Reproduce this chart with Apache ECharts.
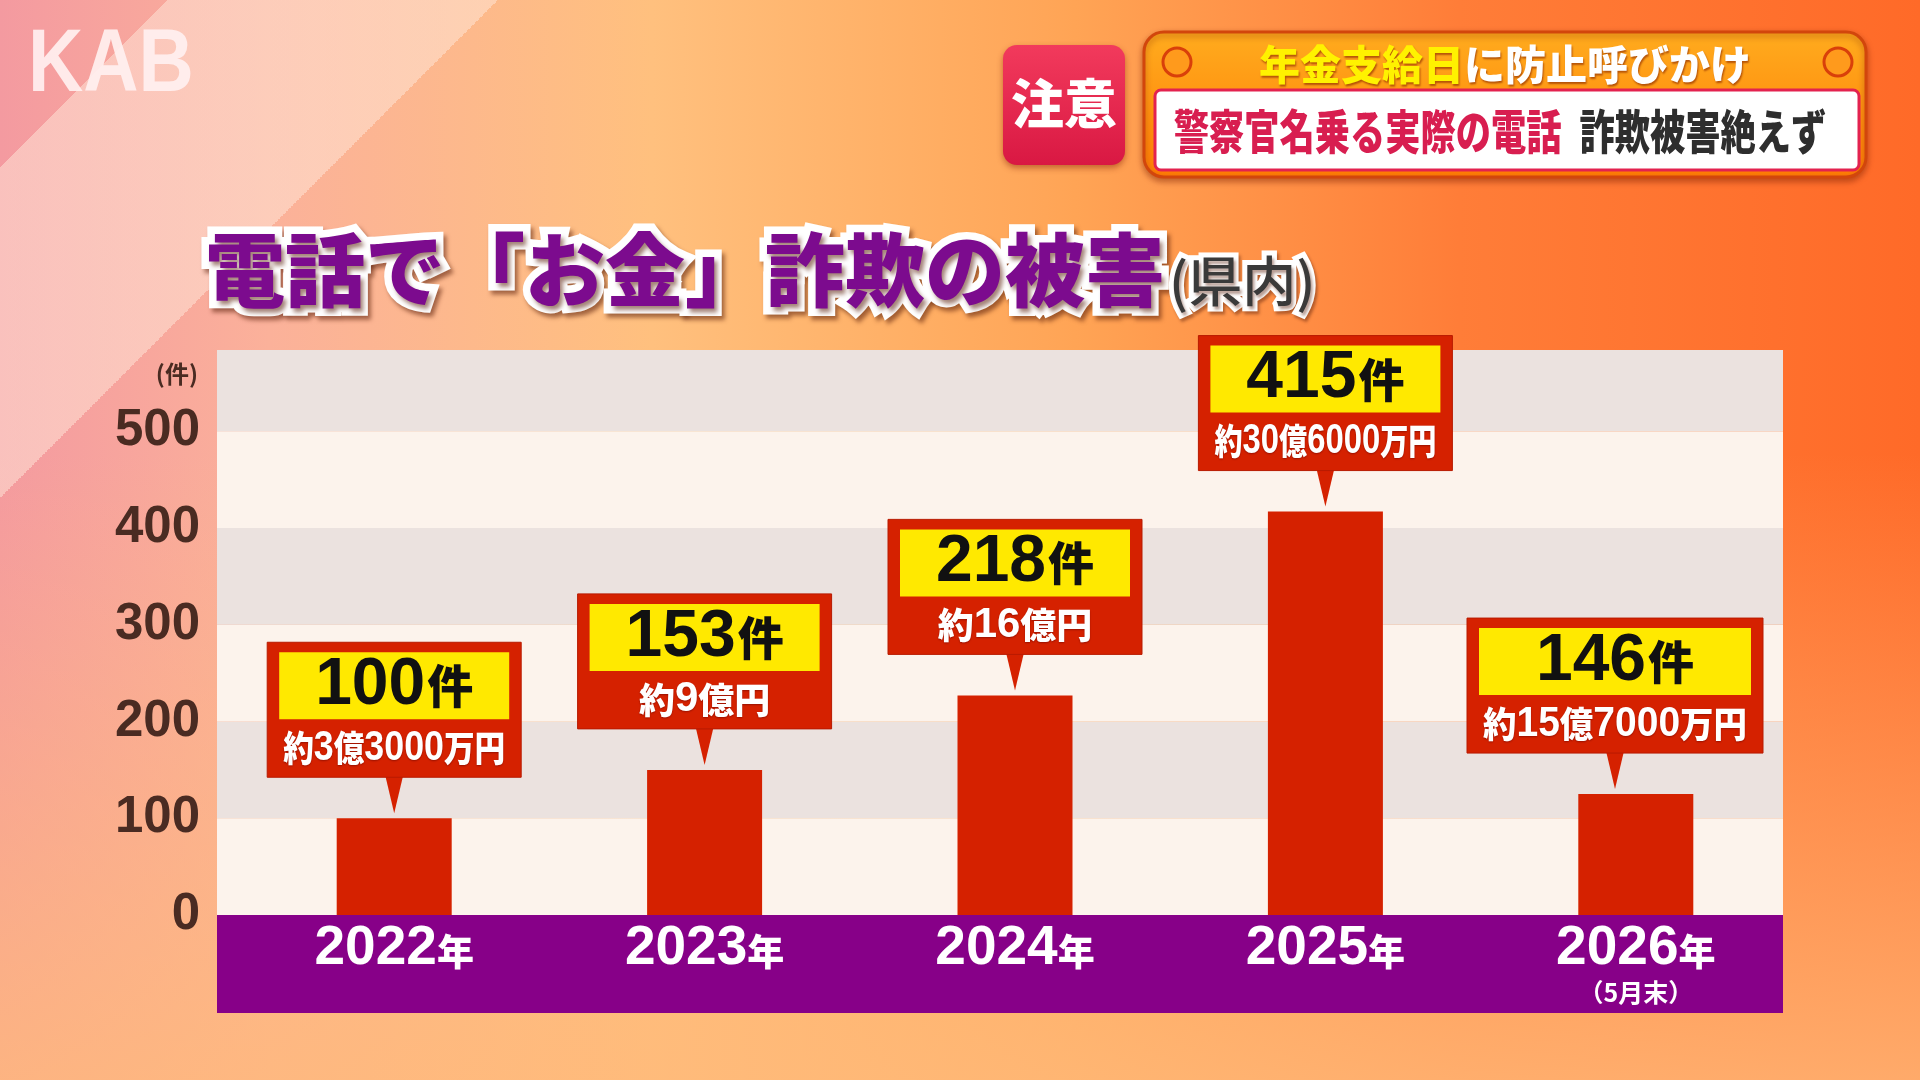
<!DOCTYPE html>
<html lang="ja">
<head>
<meta charset="utf-8">
<title>電話で「お金」詐欺の被害</title>
<script src="https://cdn.jsdelivr.net/npm/echarts@6/dist/echarts.min.js"></script>
<style>
  html, body { margin: 0; padding: 0; }
  body {
    width: 1920px;
    height: 1080px;
    overflow: hidden;
    background:
      linear-gradient(135deg, rgba(255,255,255,0) 0 5.6%, rgba(255,232,218,0.5) 5.6% 16.6%, rgba(255,255,255,0) 16.6%),
      linear-gradient(180deg, rgba(255,188,120,0) 42%, rgba(255,186,122,0.8) 100%),
      linear-gradient(90deg, #f49aa0 0%, #fbb19a 14%, #ffc07e 34%, #ffa455 56%, #ff7d38 76%, #ff6a28 100%);
  }
  #chart { width: 1920px; height: 1080px; }
</style>
</head>
<body>
<div id="chart"></div>
<script>
const years = ['2022', '2023', '2024', '2025', '2026'];
const yearNotes = ['', '', '', '', '（5月末）'];
// bar heights as drawn in the graphic (2024 and 2026 bars don't quite match their labels)
const barValues = [100, 150, 227, 417, 125];
const caseCounts = ['100', '153', '218', '415', '146'];
const damageAmounts = ['約3億3000万円', '約9億円', '約16億円', '約30億6000万円', '約15億7000万円'];
const yTicks = [0, 100, 200, 300, 400, 500];

const NUM_FONT = '"Liberation Sans", "Noto Sans CJK JP", sans-serif';
const JP_FONT = '"Noto Sans CJK JP", sans-serif';
const RED = '#d52100';
const YELLOW = '#ffe900';
const PURPLE = '#870088';
const BROWN = '#4a2b22';

const PLOT = { left: 217, right: 1783, top: 350, bottom: 915 };
const BAR_AREA = { left: 239, right: 1791 };
const Y_MAX = 584;
const CALLOUT_W = [254, 254, 254, 254, 296];

const measureCtx = document.createElement('canvas').getContext('2d');
function amountParts(s) {
  return s.match(/\d+|\D+/g);
}
function measureAmount(s) {
  return amountParts(s).reduce((sum, part) => {
    measureCtx.font = /\d/.test(part) ? `bold 42px ${NUM_FONT}` : `900 36px ${JP_FONT}`;
    return sum + measureCtx.measureText(part).width;
  }, 0);
}
function amountRich(s) {
  return amountParts(s).map(p => (/\d/.test(p) ? `{n|${p}}` : `{k|${p}}`)).join('');
}

function renderCallout(params, api) {
  const i = params.dataIndex;
  const pt = api.coord([api.value(0), api.value(1)]);
  const cx = pt[0], ty = pt[1];
  const w = CALLOUT_W[i], h = 135;
  const bx = Math.min(cx - w / 2, PLOT.right - 20 - w);
  const bBottom = ty - 41, bTop = bBottom - h;
  const px = bx + w / 2;
  const inset = 12;
  const yTop = bTop + 10, yH = 67;
  const amtY = (yTop + yH + bBottom) / 2;
  const sx = Math.min(1, (w - 32) / measureAmount(damageAmounts[i]));
  return {
    type: 'group',
    children: [
      {
        type: 'polygon',
        shape: { points: [[px - 9, bBottom - 2], [px + 9, bBottom - 2], [px, ty - 5]] },
        style: { fill: RED }
      },
      {
        type: 'rect',
        shape: { x: bx, y: bTop, width: w, height: h },
        style: { fill: RED, stroke: '#b81a00', lineWidth: 1 }
      },
      {
        type: 'rect',
        shape: { x: bx + inset, y: yTop, width: w - inset * 2, height: yH },
        style: { fill: YELLOW }
      },
      {
        type: 'text',
        x: px,
        y: yTop + yH / 2,
        style: {
          text: `{n|${caseCounts[i]}}{k|件}`,
          align: 'center', textAlign: 'center',
          verticalAlign: 'middle', textVerticalAlign: 'middle',
          rich: {
            n: { fontSize: 66, fontWeight: 'bold', fontFamily: NUM_FONT, fill: '#111', lineHeight: 70 },
            k: { fontSize: 46, fontWeight: 900, fontFamily: JP_FONT, fill: '#111', lineHeight: 56, padding: [0, 0, 0, 2] }
          }
        }
      },
      {
        type: 'text',
        x: px,
        y: amtY,
        scaleX: sx,
        style: {
          text: amountRich(damageAmounts[i]),
          align: 'center', textAlign: 'center',
          verticalAlign: 'middle', textVerticalAlign: 'middle',
          rich: {
            n: { fontSize: 42, fontWeight: 'bold', fontFamily: NUM_FONT, fill: '#fff', lineHeight: 46,
                 textShadowColor: 'rgba(90,0,0,0.5)', textShadowBlur: 2, textShadowOffsetY: 1 },
            k: { fontSize: 36, fontWeight: 900, fontFamily: JP_FONT, fill: '#fff', lineHeight: 42,
                 textShadowColor: 'rgba(90,0,0,0.5)', textShadowBlur: 2, textShadowOffsetY: 1 }
          }
        }
      }
    ]
  };
}

const chart = echarts.init(document.getElementById('chart'));
chart.setOption({
  backgroundColor: 'transparent',
  animation: false,
  grid: [
    { left: PLOT.left, right: 1920 - PLOT.right, top: PLOT.top, bottom: 1080 - PLOT.bottom },
    { left: BAR_AREA.left, right: 1920 - BAR_AREA.right, top: PLOT.top, bottom: 1080 - PLOT.bottom }
  ],
  xAxis: [
    { gridIndex: 0, type: 'value', show: false },
    {
      gridIndex: 1,
      type: 'category',
      data: years,
      z: 5,
      axisLine: { show: false },
      axisTick: { show: false },
      axisLabel: {
        interval: 0,
        margin: 6,
        formatter: (v, i) => `{y|${v}}{n|年}` + (yearNotes[i] ? `\n{s|${yearNotes[i]}}` : ''),
        rich: {
          y: { fontSize: 55, fontWeight: 'bold', fontFamily: NUM_FONT, color: '#fff', lineHeight: 56 },
          n: { fontSize: 37, fontWeight: 900, fontFamily: JP_FONT, color: '#fff', lineHeight: 44, padding: [5, 0, 0, 0] },
          s: { fontSize: 25, fontWeight: 'bold', fontFamily: JP_FONT, color: '#fff', lineHeight: 30 }
        }
      }
    }
  ],
  yAxis: [
    {
      gridIndex: 0,
      type: 'value',
      min: 0,
      max: Y_MAX,
      interval: 100,
      name: '(件)',
      nameLocation: 'end',
      nameGap: -24,
      nameTextStyle: {
        color: BROWN, fontSize: 24, fontWeight: 'bold', fontFamily: JP_FONT,
        align: 'right', verticalAlign: 'middle', padding: [0, 19, 0, 0]
      },
      axisLine: { show: false },
      axisTick: { show: false },
      splitLine: { show: false },
      splitArea: { show: true, areaStyle: { color: ['#fcf3ec', '#ebe2df'] } },
      axisLabel: {
        margin: 17,
        color: BROWN,
        fontSize: 51,
        fontWeight: 'bold',
        fontFamily: NUM_FONT,
        formatter: v => (yTicks.includes(v) ? String(v) : '')
      }
    },
    { gridIndex: 1, type: 'value', min: 0, max: Y_MAX, show: false, splitLine: { show: false } }
  ],
  series: [
    {
      type: 'bar',
      xAxisIndex: 1,
      yAxisIndex: 1,
      data: barValues,
      barWidth: 115,
      itemStyle: { color: RED },
      z: 2
    },
    {
      type: 'custom',
      xAxisIndex: 1,
      yAxisIndex: 1,
      data: barValues.map((v, i) => [i, v]),
      renderItem: renderCallout,
      clip: false,
      z: 4
    }
  ],
  graphic: [
    // purple band behind the year labels
    {
      type: 'rect',
      z: -1,
      shape: { x: PLOT.left, y: PLOT.bottom, width: PLOT.right - PLOT.left, height: 98 },
      style: { fill: PURPLE }
    },
    {
      type: 'text',
      x: 28,
      y: 66,
      scaleX: 0.86,
      style: {
        text: 'KAB',
        font: `bold 89px ${NUM_FONT}`,
        fill: 'rgba(255,240,240,0.92)',
        verticalAlign: 'middle', textVerticalAlign: 'middle'
      }
    },
    {
      type: 'text',
      x: 205,
      y: 270,
      style: {
        text: '{m|電話で「お金」詐欺の被害}{s|(県内)}',
        verticalAlign: 'middle', textVerticalAlign: 'middle',
        rich: {
          m: {
            fontSize: 80, fontWeight: 900, fontFamily: JP_FONT, fill: '#7c0b8e',
            stroke: '#fff', lineWidth: 15, lineHeight: 96,
            textShadowColor: 'rgba(90,30,10,0.55)', textShadowBlur: 4, textShadowOffsetX: 3, textShadowOffsetY: 4
          },
          s: {
            fontSize: 54, fontWeight: 500, fontFamily: JP_FONT, fill: '#3a3a3a',
            stroke: '#fff', lineWidth: 10, lineHeight: 70, padding: [22, 0, 0, 4],
            textShadowColor: 'rgba(90,30,10,0.45)', textShadowBlur: 3, textShadowOffsetX: 2, textShadowOffsetY: 3
          }
        }
      }
    },
    {
      type: 'group',
      children: [
        {
          type: 'rect',
          shape: { x: 1003, y: 45, width: 122, height: 120, r: 14 },
          style: {
            fill: new echarts.graphic.LinearGradient(0, 0, 0, 1, [
              { offset: 0, color: '#f23a5c' }, { offset: 1, color: '#d91843' }
            ]),
            shadowBlur: 6, shadowColor: 'rgba(120,20,0,0.45)', shadowOffsetY: 3
          }
        },
        {
          type: 'text',
          x: 1064,
          y: 104,
          style: {
            text: '注意', font: `900 53px ${JP_FONT}`, fill: '#fff',
            align: 'center', textAlign: 'center', verticalAlign: 'middle', textVerticalAlign: 'middle'
          }
        },
        {
          type: 'rect',
          shape: { x: 1144, y: 32, width: 722, height: 145, r: 20 },
          style: {
            fill: new echarts.graphic.LinearGradient(0, 0, 0, 1, [
              { offset: 0, color: '#ffac1e' }, { offset: 1, color: '#ff7c05' }
            ]),
            stroke: '#d2460c', lineWidth: 3,
            shadowBlur: 6, shadowColor: 'rgba(120,30,0,0.45)', shadowOffsetY: 3
          }
        },
        {
          type: 'circle',
          shape: { cx: 1177, cy: 62, r: 14 },
          style: { fill: '#ff9a1c', stroke: '#d9400a', lineWidth: 3 }
        },
        {
          type: 'circle',
          shape: { cx: 1838, cy: 62, r: 14 },
          style: { fill: '#ff9a1c', stroke: '#d9400a', lineWidth: 3 }
        },
        {
          type: 'text',
          x: 1505,
          y: 64,
          style: {
            text: '{y|年金支給日}{w|に防止呼びかけ}',
            align: 'center', textAlign: 'center', verticalAlign: 'middle', textVerticalAlign: 'middle',
            rich: {
              y: { fontSize: 41, fontWeight: 900, fontFamily: JP_FONT, fill: '#fff200',
                   textShadowColor: 'rgba(150,50,0,0.7)', textShadowBlur: 2, textShadowOffsetX: 1, textShadowOffsetY: 2 },
              w: { fontSize: 41, fontWeight: 900, fontFamily: JP_FONT, fill: '#fff',
                   textShadowColor: 'rgba(150,50,0,0.7)', textShadowBlur: 2, textShadowOffsetX: 1, textShadowOffsetY: 2 }
            }
          }
        },
        {
          type: 'rect',
          shape: { x: 1155, y: 90, width: 704, height: 80, r: 6 },
          style: { fill: '#fff', stroke: '#e3224f', lineWidth: 3 }
        },
        {
          type: 'text',
          x: 1500,
          y: 131,
          scaleX: 0.75,
          style: {
            text: '{r|警察官名乗る実際の電話}{g|詐欺被害絶えず}',
            align: 'center', textAlign: 'center', verticalAlign: 'middle', textVerticalAlign: 'middle',
            rich: {
              r: { fontSize: 47, fontWeight: 900, fontFamily: JP_FONT, fill: '#d81e50' },
              g: { fontSize: 47, fontWeight: 900, fontFamily: JP_FONT, fill: '#2e2e2e', padding: [0, 0, 0, 24] }
            }
          }
        }
      ]
    }
  ]
});

window.addEventListener('resize', () => chart.resize());
</script>
</body>
</html>
